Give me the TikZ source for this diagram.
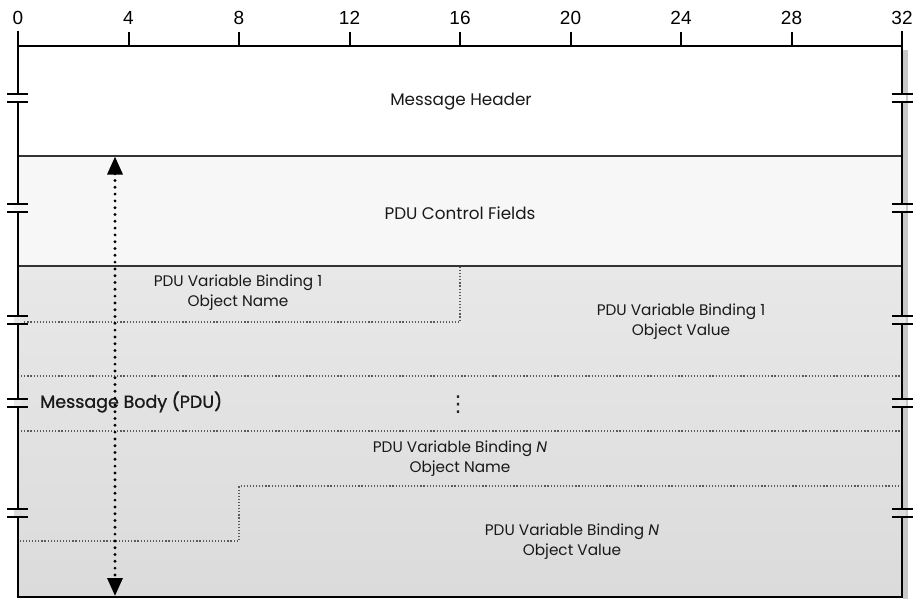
\documentclass[tikz,border=0pt]{standalone}
\usepackage{fontspec}
\setmainfont{Poppins}
\newfontfamily\numfont{Liberation Sans}
\newfontfamily\medfont[FakeBold=1.0]{Poppins}
\newfontfamily\symfont{DejaVu Sans}
\usetikzlibrary{arrows.meta}
\definecolor{ctrlfill}{HTML}{F7F7F7}
\definecolor{bodytop}{HTML}{E8E8E8}
\definecolor{bodybot}{HTML}{DBDBDB}
\definecolor{dotgray}{HTML}{5A5A5A}
\definecolor{shadowgray}{HTML}{C8C8C8}
\definecolor{rulegray}{HTML}{333333}
\begin{document}
\begin{tikzpicture}[x=1pt,y=-1pt,
  frameline/.style={line width=2.2pt,black},
  sepline/.style={line width=1.3pt,rulegray},
  finedots/.style={line width=1.2pt,dotgray,dash pattern=on 1.2pt off 1.9pt},
  bigdots/.style={line width=3.2pt,black,line cap=round,dash pattern=on 0pt off 6.8pt},
  fieldtext/.style={font=\fontsize{15.3}{20}\selectfont,align=center,text=black!90},
  titletext/.style={font=\fontsize{16.8}{20}\selectfont,align=center,text=black!90},
  numtext/.style={font=\numfont\fontsize{19}{19}\selectfont},
  breakmark/.style={line width=2.3pt,black}
]
\useasboundingbox (0,0) rectangle (920,599);
% shadow
\fill[shadowgray] (903,50) rectangle (908,599);
% fills
\fill[white] (18,46) rectangle (902,156);
\fill[ctrlfill] (18,156) rectangle (902,266);
\shade[top color=bodytop,bottom color=bodybot] (18,266) rectangle (902,597);
% separators
\draw[sepline] (18,156) -- (902,156);
\draw[sepline] (18,266) -- (902,266);
% dotted field boundaries
\draw[finedots] (18,322) -- (460,322) -- (460,266);
\draw[finedots] (18,376) -- (902,376);
\draw[finedots] (18,431) -- (902,431);
\draw[finedots] (902,486) -- (239,486) -- (239,541) -- (18,541);
% ruler
\draw[frameline] (18,46) -- (902,46);
\foreach \b in {4,8,...,28} {
  \draw[line width=2pt] ({18+\b*27.625},32) -- ({18+\b*27.625},46);
}
\foreach \b in {0,4,...,32} {
  \node[numtext] (n\b) at ({18+\b*27.625},18) {\b};
}
% frame
\draw[frameline] (18,31) -- (18,598);
\draw[frameline] (902,31) -- (902,598);
\draw[frameline] (17,597) -- (903,597);
% break marks
\foreach \yy/\col in {98/white,208/ctrlfill,320/bodytop,403/bodytop,513/bodybot} {
  \fill[\col] (14,\yy-3) rectangle (22,\yy+3);
  \draw[breakmark] (7,\yy-4.3) -- (28,\yy-4.3);
  \draw[breakmark] (7,\yy+4.3) -- (28,\yy+4.3);
  \fill[\col] (898,\yy-3) rectangle (906,\yy+3);
  \draw[breakmark] (892,\yy-4.3) -- (913,\yy-4.3);
  \draw[breakmark] (892,\yy+4.3) -- (913,\yy+4.3);
}
% texts
\node[titletext] (hdr) at (461,102) {Message Header};
\node[titletext] (ctrl) at (460,213) {PDU Control Fields};
\node[fieldtext] (b1name) at (238,293) {PDU Variable Binding 1\\Object Name};
\node[fieldtext] (b1val) at (681,322) {PDU Variable Binding 1\\Object Value};
\node[fieldtext] (bnname) at (460,459) {PDU Variable Binding \textit{N}\\Object Name};
\node[fieldtext] (bnval) at (572,542) {PDU Variable Binding \textit{N}\\Object Value};
\node[font=\symfont\fontsize{22}{22}\selectfont,inner sep=0pt,text=black!85] (ell) at (458,405) {⋮};
\node[anchor=west,font=\medfont\fontsize{17.5}{18}\selectfont,inner sep=0pt,text=black!90] (body) at (40,402) {Message Body (PDU)};
% dotted double arrow
\coordinate (atop) at (115,156.5);
\coordinate (abot) at (115,596);
\draw[bigdots,{Triangle[width=15pt,length=18pt]}-{Triangle[width=15pt,length=18pt]}] (atop) -- (abot);
\end{tikzpicture}
\end{document}
